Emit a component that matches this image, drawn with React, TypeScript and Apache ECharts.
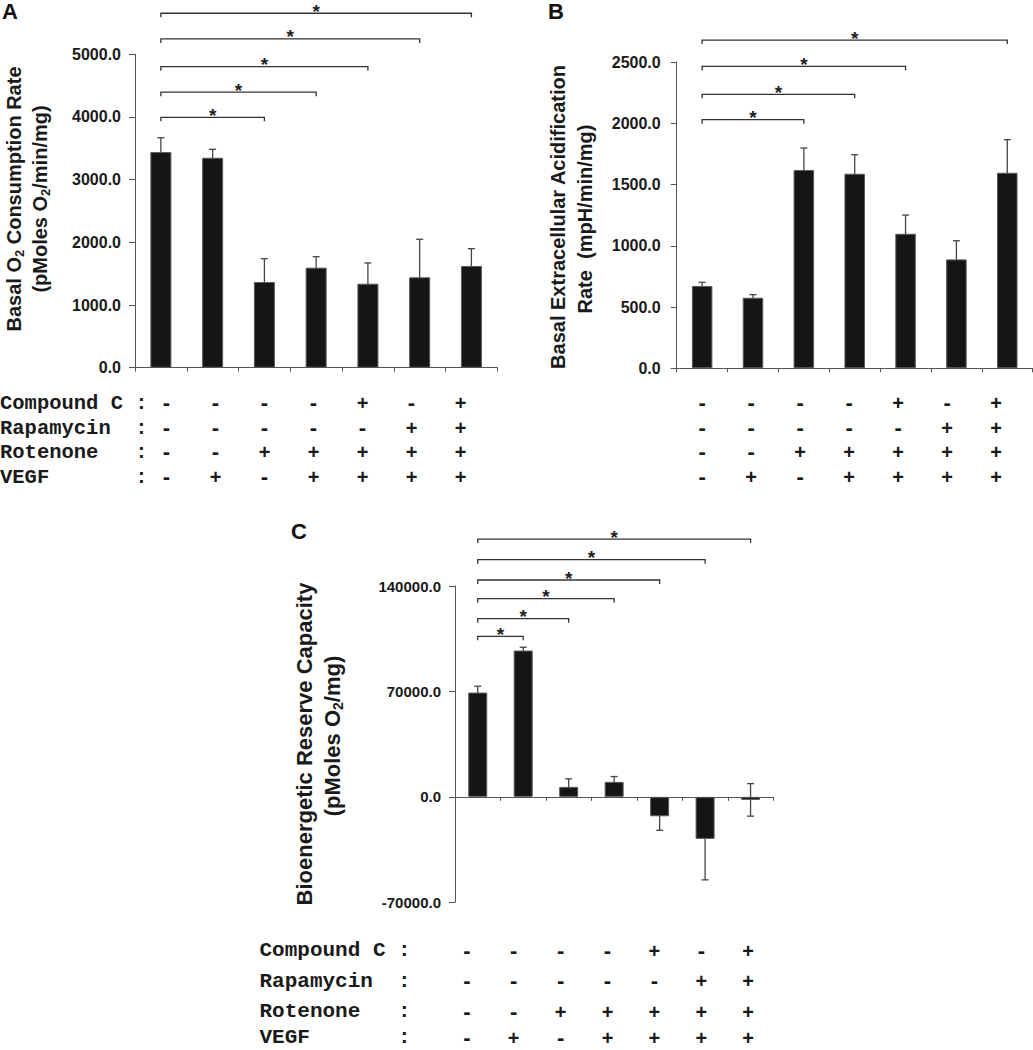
import React, { useEffect, useRef } from 'react';
import * as echarts from 'echarts';

// ---------- data ----------
const categories = ['1', '2', '3', '4', '5', '6', '7'];
const rowLabels = ['Compound C :', 'Rapamycin  :', 'Rotenone   :', 'VEGF       :'];
const compoundC = ['-', '-', '-', '-', '+', '-', '+'];
const rapamycin = ['-', '-', '-', '-', '-', '+', '+'];
const rotenone = ['-', '-', '+', '+', '+', '+', '+'];
const vegf = ['-', '+', '-', '+', '+', '+', '+'];

const ocrMean = [3440, 3350, 1367, 1596, 1340, 1442, 1623];
const ocrErr = [228, 134, 372, 175, 331, 607, 276];
const ecarMean = [672, 576, 1618, 1588, 1098, 889, 1596];
const ecarErr = [30, 25, 180, 155, 153, 152, 270];
const brcMean = [69250, 97150, 6640, 9960, -12880, -27900, -2000];
const brcErr = [4200, 2200, 5310, 3540, 9300, 27200, 10800];

const sigPairsA = [[0, 2], [0, 3], [0, 4], [0, 5], [0, 6]];
const sigLevelsA = [3995, 4395, 4803, 5245, 5655];
const sigPairsB = [[0, 2], [0, 3], [0, 4], [0, 6]];
const sigLevelsB = [2029, 2236, 2464, 2679];
const sigPairsC = [[0, 1], [0, 2], [0, 3], [0, 4], [0, 5], [0, 6]];
const sigLevelsC = [106560, 118300, 131570, 143980, 157450, 171180];

// ---------- styling ----------
const SANS = '"Liberation Sans", Arial, Helvetica, sans-serif';
const MONO = '"Liberation Mono", "Courier New", monospace';
const INK = '#1a1a1a';
const AXIS = '#555';

const tableRows = [compoundC, rapamycin, rotenone, vegf];

function errorRender(params: any, api: any) {
  const i = api.value(0);
  const m = api.value(1);
  const e = api.value(2);
  const top = api.coord([i, m + e]);
  const bot = api.coord([i, m - e]);
  const x = top[0];
  const hw = 3.5;
  const st = { stroke: '#444', lineWidth: 1.3 };
  return {
    type: 'group',
    children: [
      { type: 'line', shape: { x1: x, y1: top[1], x2: x, y2: bot[1] }, style: st },
      { type: 'line', shape: { x1: x - hw, y1: top[1], x2: x + hw, y2: top[1] }, style: st },
      { type: 'line', shape: { x1: x - hw, y1: bot[1], x2: x + hw, y2: bot[1] }, style: st },
    ],
  };
}

function bracketRender(params: any, api: any) {
  const a = api.coord([api.value(0), api.value(2)]);
  const b = api.coord([api.value(1), api.value(2)]);
  const y = a[1];
  return {
    type: 'group',
    children: [
      {
        type: 'polyline',
        shape: { points: [[a[0], y + 4], [a[0], y], [b[0], y], [b[0], y + 4]] },
        style: { stroke: '#333', lineWidth: 1.3, fill: 'none' },
      },
      {
        type: 'text',
        x: (a[0] + b[0]) / 2,
        y: y - 2,
        style: {
          text: '*',
          fontSize: 19,
          fontWeight: 'bold',
          fontFamily: SANS,
          fill: '#222',
          align: 'center',
          verticalAlign: 'middle',
        },
      },
    ],
  };
}

function xAxisCfg(gridIndex: number) {
  return {
    type: 'category',
    gridIndex,
    data: categories,
    axisLabel: { show: false },
    axisTick: { show: true, length: 4, lineStyle: { color: AXIS, width: 1 } },
    axisLine: { show: true, lineStyle: { color: AXIS, width: 1 } },
    splitLine: { show: false },
  };
}

function yAxisCfg(gridIndex: number, min: number, max: number, interval: number, fontSize: number, margin: number) {
  return {
    type: 'value',
    gridIndex,
    min,
    max,
    interval,
    axisLine: { show: true, lineStyle: { color: AXIS, width: 1 } },
    axisTick: { show: true, length: 6, lineStyle: { color: AXIS, width: 1 } },
    splitLine: { show: false },
    axisLabel: {
      formatter: (v: number) => v.toFixed(1),
      fontSize,
      fontWeight: 'bold',
      fontFamily: SANS,
      color: INK,
      margin,
    },
  };
}

function barSeries(idx: number, data: number[], barWidth: number) {
  return {
    type: 'bar',
    xAxisIndex: idx,
    yAxisIndex: idx,
    data,
    barWidth,
    z: 3,
    itemStyle: { color: '#151515', borderColor: '#5a5a5a', borderWidth: 1 },
  };
}

function errSeries(idx: number, mean: number[], err: number[]) {
  return {
    type: 'custom',
    xAxisIndex: idx,
    yAxisIndex: idx,
    z: 2,
    clip: false,
    renderItem: errorRender,
    encode: { x: 0, y: 1 },
    data: mean.map((m, i) => [i, m, err[i]]),
  };
}

function sigSeries(idx: number, pairs: number[][], levels: number[]) {
  return {
    type: 'custom',
    xAxisIndex: idx,
    yAxisIndex: idx,
    z: 4,
    clip: false,
    renderItem: bracketRender,
    encode: { x: 0, y: 2 },
    data: pairs.map((p, k) => [p[0], p[1], levels[k]]),
  };
}

function richTitle(fontSize: number) {
  return {
    t: { fontSize, fontWeight: 'bold', fontFamily: SANS, fill: INK, lineHeight: fontSize + 4 },
    s: {
      fontSize: Math.round(fontSize * 0.65),
      fontWeight: 'bold',
      fontFamily: SANS,
      fill: INK,
      lineHeight: Math.round(fontSize * 0.65),
      verticalAlign: 'bottom',
    },
  };
}

function vText(x: number, y: number, text: string, fontSize: number) {
  return {
    type: 'text',
    x,
    y,
    rotation: Math.PI / 2,
    style: {
      text,
      rich: richTitle(fontSize),
      align: 'center',
      verticalAlign: 'middle',
    },
  };
}

function panelLabel(x: number, y: number, text: string) {
  return {
    type: 'text',
    x,
    y,
    style: {
      text,
      fontSize: 22,
      fontWeight: 'bold',
      fontFamily: SANS,
      fill: '#111',
      align: 'left',
      verticalAlign: 'middle',
    },
  };
}

function tableGraphics(
  labelX: number | null,
  labelSize: number,
  x0: number,
  dx: number,
  rowYs: number[]
) {
  const out: any[] = [];
  tableRows.forEach((row, r) => {
    const y = rowYs[r];
    if (labelX !== null) {
      out.push({
        type: 'text',
        x: labelX,
        y,
        style: {
          text: rowLabels[r],
          fontSize: labelSize,
          fontWeight: 'bold',
          fontFamily: MONO,
          fill: INK,
          align: 'left',
          verticalAlign: 'middle',
        },
      });
    }
    row.forEach((sym, i) => {
      const isPlus = sym === '+';
      out.push({
        type: 'text',
        x: x0 + dx * i,
        y: isPlus ? y : y - 0.5,
        style: {
          text: sym,
          fontSize: isPlus ? 20 : 22,
          fontWeight: 'bold',
          fontFamily: SANS,
          fill: INK,
          align: 'center',
          verticalAlign: 'middle',
        },
      });
    });
  });
  return out;
}

const option: any = {
  animation: false,
  backgroundColor: '#ffffff',
  grid: [
    { left: 135, top: 54.3, width: 362.3, height: 313.4 },
    { left: 676.7, top: 62, width: 356, height: 306.3 },
    { left: 455, top: 586, width: 318.3, height: 316.3 },
  ],
  xAxis: [xAxisCfg(0), xAxisCfg(1), xAxisCfg(2)],
  yAxis: [
    yAxisCfg(0, 0, 5000, 1000, 16, 14),
    yAxisCfg(1, 0, 2500, 500, 16, 16),
    yAxisCfg(2, -70000, 140000, 70000, 15, 14),
  ],
  series: [
    errSeries(0, ocrMean, ocrErr),
    barSeries(0, ocrMean, 21),
    sigSeries(0, sigPairsA, sigLevelsA),
    errSeries(1, ecarMean, ecarErr),
    barSeries(1, ecarMean, 20.5),
    sigSeries(1, sigPairsB, sigLevelsB),
    errSeries(2, brcMean, brcErr),
    barSeries(2, brcMean, 19),
    sigSeries(2, sigPairsC, sigLevelsC),
  ],
  graphic: [
    panelLabel(2, 11, 'A'),
    panelLabel(548, 11, 'B'),
    panelLabel(291, 531, 'C'),
    vText(14, 199, '{t|Basal O}{s|2}{t| Consumption Rate}', 20),
    vText(40, 199, '{t|(pMoles O}{s|2}{t|/min/mg)}', 20),
    vText(558, 217, '{t|Basal Extracellular Acidification}', 20),
    vText(585, 219, '{t|Rate  (mpH/min/mg)}', 20),
    vText(304, 744, '{t|Bioenergetic Reserve Capacity}', 22),
    vText(332, 736, '{t|(pMoles O}{s|2}{t|/mg)}', 22),
    ...tableGraphics(0, 20.5, 166.5, 49, [403.3, 428.3, 452.3, 477.3]),
    ...tableGraphics(null, 20.5, 702.2, 49, [403.3, 428.3, 452.3, 477.3]),
    ...tableGraphics(259.5, 21, 466.8, 46.9, [950.7, 981.2, 1011.5, 1037.5]),
  ],
};

export default function App() {
  const ref = useRef<HTMLDivElement>(null);
  useEffect(() => {
    if (!ref.current) return;
    const chart = echarts.init(ref.current, null, { renderer: 'svg' });
    chart.setOption(option);
    return () => {
      chart.dispose();
    };
  }, []);
  return (
    <div
      ref={ref}
      style={{ position: 'absolute', left: 0, top: 0, width: 1033, height: 1050, background: '#fff' }}
    />
  );
}
